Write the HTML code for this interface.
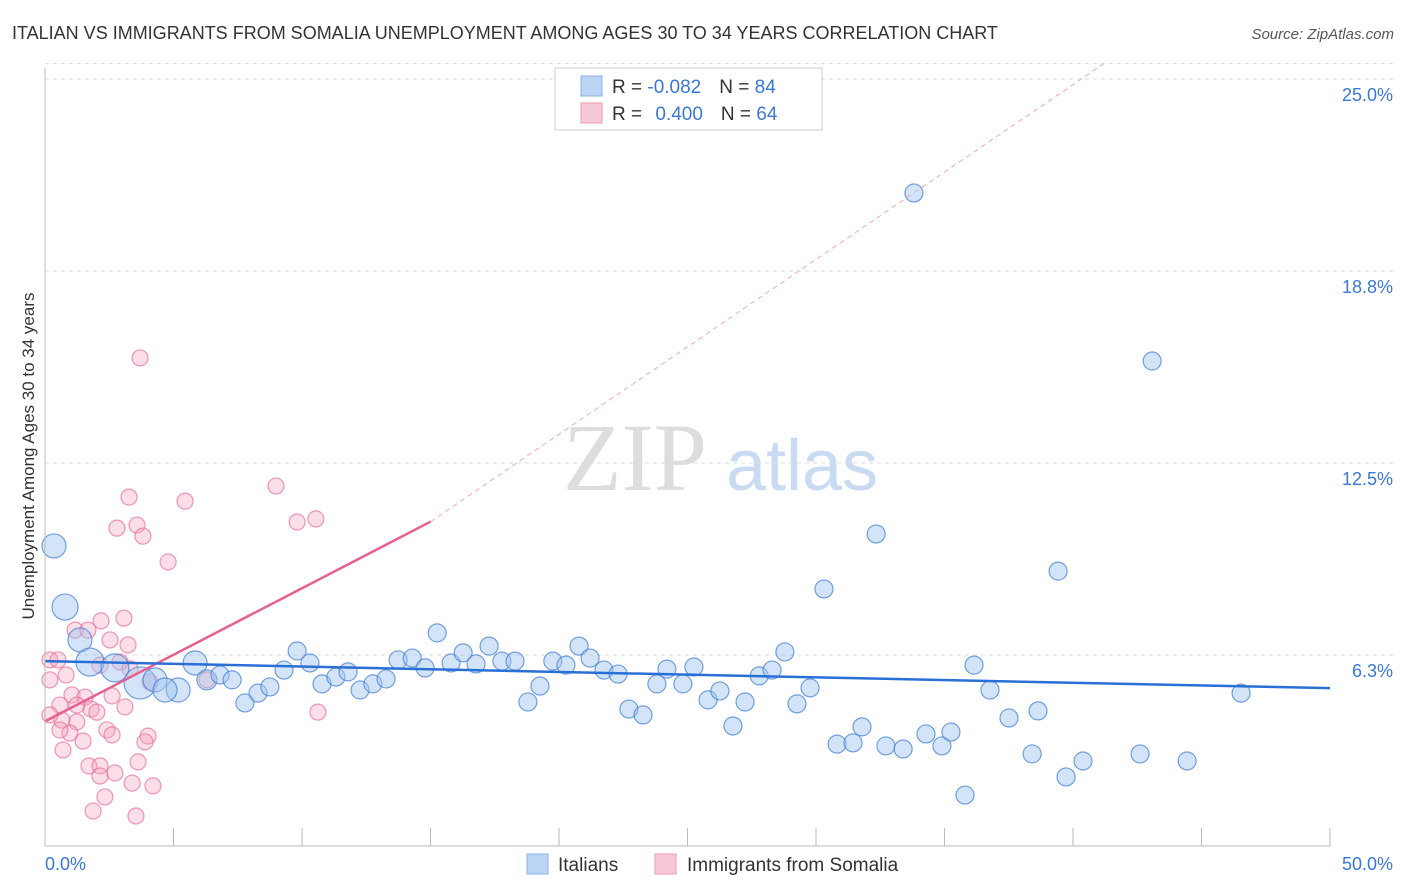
<!DOCTYPE html>
<html><head><meta charset="utf-8"><style>
body{margin:0;background:#fff;font-family:"Liberation Sans",sans-serif;}
</style></head><body>
<svg id="chart" width="1406" height="892" xmlns="http://www.w3.org/2000/svg" style="display:block">
<text x="12" y="39" font-size="18" fill="#333">ITALIAN VS IMMIGRANTS FROM SOMALIA UNEMPLOYMENT AMONG AGES 30 TO 34 YEARS CORRELATION CHART</text>
<text x="1394" y="39" font-size="15" fill="#555" text-anchor="end" font-style="italic">Source: ZipAtlas.com</text>
<text transform="translate(34,456) rotate(-90)" font-size="17" fill="#333" text-anchor="middle">Unemployment Among Ages 30 to 34 years</text>
<g><text x="635" y="490" font-size="96" font-family="Liberation Serif,serif" fill="#ddd" text-anchor="middle">ZIP</text><text x="802" y="490" font-size="72" fill="#c9dbf2" text-anchor="middle">atlas</text></g>
<g id="grid"></g><g id="pinkpts"></g><g id="bluepts"></g><g id="lines"></g><g id="axes"></g>
<g>
<rect x="555" y="68" width="267" height="62" fill="#fff" stroke="#ccc"/>
<rect x="581" y="76" width="21" height="20" fill="#bcd4f3" stroke="#8ab0e6"/>
<rect x="581" y="103" width="21" height="20" fill="#f9c8d6" stroke="#ef9ab3"/>
<text x="612" y="93" font-size="19" fill="#333">R = <tspan fill="#3a78d6">-0.082</tspan><tspan dx="18">N = </tspan><tspan fill="#3a78d6">84</tspan></text>
<text x="612" y="120" font-size="19" fill="#333">R = <tspan fill="#3a78d6" dx="8">0.400</tspan><tspan dx="18">N = </tspan><tspan fill="#3a78d6">64</tspan></text>
</g>
<g>
<rect x="527" y="854" width="21" height="20" fill="#bcd4f3" stroke="#8ab0e6"/>
<text x="558" y="871" font-size="19" fill="#333">Italians</text>
<rect x="655" y="854" width="21" height="20" fill="#f9c8d6" stroke="#ef9ab3"/>
<text x="687" y="871" font-size="19" fill="#333">Immigrants from Somalia</text>
</g>
</svg>
<script>
const yTicks=[6.25,12.5,18.75,25];
const yTickLabels=["6.3%","12.5%","18.8%","25.0%"];
const xTickLabels=["0.0%","50.0%"];
const blueX=[0.35,0.78,1.36,1.75,2.72,3.70,4.28,5.18,4.67,5.84,6.30,6.81,7.28,7.78,8.29,8.75,9.30,9.81,10.31,10.78,11.32,11.79,12.26,12.76,13.27,13.74,14.29,14.79,15.26,15.80,16.27,16.77,17.28,17.78,18.29,18.79,19.26,19.76,20.27,20.78,21.21,21.75,22.30,22.72,23.27,23.81,24.20,24.82,25.25,25.80,26.26,26.77,27.24,27.79,28.29,28.79,29.26,29.77,30.31,30.82,31.44,31.79,32.34,32.72,33.39,33.81,34.28,34.90,35.25,35.80,36.15,36.77,37.51,38.41,38.64,39.42,39.73,40.39,42.61,43.08,44.44,46.54];
const blueY=[9.8,7.81,6.74,6.02,5.83,5.34,5.44,5.11,5.11,5.99,5.44,5.60,5.44,4.69,5.01,5.21,5.76,6.38,5.99,5.31,5.53,5.70,5.11,5.31,5.47,6.09,6.15,5.83,6.97,5.99,6.32,5.96,6.54,6.05,6.05,4.72,5.24,6.05,5.92,6.54,6.15,5.76,5.63,4.49,4.30,5.31,5.79,5.31,5.86,4.79,5.08,3.94,4.72,5.57,5.76,6.35,4.66,5.18,8.40,3.35,3.39,3.91,10.19,3.29,3.19,21.29,3.68,3.29,3.74,1.69,5.92,5.11,4.20,3.03,4.43,8.98,2.28,2.80,3.03,15.82,2.80,5.01];
const blueR=[12,13,12,14,14,16,12,12,12,12,10,9];
const pinkX=[3.70,3.27,5.45,8.99,9.81,10.54,2.80,3.58,3.81,4.79,3.07,2.18,1.17,1.67,2.53,3.23,0.19,0.51,0.82,0.19,2.14,2.92,3.31,4.09,6.30,1.05,1.56,0.58,1.79,1.24,2.61,3.11,0.66,0.19,1.24,2.02,10.62,0.97,1.48,2.41,2.61,4.01,3.89,0.70,1.71,2.14,2.72,2.14,3.62,3.39,4.20,2.33,1.87,3.54,0.58];
const pinkY=[15.92,11.39,11.26,11.75,10.58,10.68,10.38,10.48,10.12,9.28,7.45,7.36,7.06,7.06,6.74,6.58,6.09,6.09,5.60,5.44,5.92,6.02,5.80,5.37,5.44,4.95,4.88,4.62,4.49,4.62,4.92,4.56,4.13,4.30,4.07,4.39,4.39,3.71,3.45,3.81,3.65,3.61,3.42,3.16,2.64,2.64,2.41,2.31,2.77,2.08,1.99,1.63,1.17,1.01,3.81];
const blueTrend=[[0,6.05],[50,5.17]];
const pinkTrend=[[0,4.09],[15,10.59]];
const pinkDash=[[15,10.59],[41.2,25.5]];
const NS="http://www.w3.org/2000/svg";
const X=v=>45+v/50*1285, Y=v=>847-v/6.25*192;
function mk(tag,attrs,parent){const e=document.createElementNS(NS,tag);for(const k in attrs)e.setAttribute(k,attrs[k]);parent.appendChild(e);return e;}
const grid=document.getElementById('grid'),axes=document.getElementById('axes');
yTicks.forEach((t,i)=>{
 const l=mk('line',{x1:45,x2:1394,y1:Y(t),y2:Y(t),stroke:'#ddd','stroke-dasharray':'4,4'},grid);
 
 
 const tx=mk('text',{x:1393,y:Y(t)+22,'font-size':18,fill:'#3a78d6','text-anchor':'end'},axes);
 tx.textContent=yTickLabels[i];
 
 
});
const tg=mk('line',{x1:45,x2:1394,y1:Y(25.5),y2:Y(25.5),stroke:'#ddd','stroke-dasharray':'4,4'},grid);


const ya=mk('line',{x1:45,x2:45,y1:68,y2:846,stroke:'#bbb'},axes);


const xa=mk('line',{x1:45,x2:1330,y1:846,y2:846,stroke:'#bbb'},axes);


for(let i=0;i<=10;i++){const t=mk('line',{x1:X(i*5),x2:X(i*5),y1:828,y2:846,stroke:'#bbb'},axes);
 
 }
[[0,45,'start'],[50,1393,'end']].forEach((d,i)=>{const t=mk('text',{x:d[1],y:870,'font-size':18,fill:'#3a78d6','text-anchor':d[2]},axes);t.textContent=xTickLabels[i];
 
 });
const pp=document.getElementById('pinkpts');
pinkX.forEach((x,i)=>{const c=mk('circle',{cx:X(x),cy:Y(pinkY[i]),r:8,fill:'rgba(244,160,185,0.35)',stroke:'rgba(232,110,150,0.7)','stroke-width':1.2},pp);
 
 });
const bp=document.getElementById('bluepts');
blueX.forEach((x,i)=>{const c=mk('circle',{cx:X(x),cy:Y(blueY[i]),r:blueR[i]||9,fill:'rgba(160,195,240,0.45)',stroke:'rgba(70,130,215,0.75)','stroke-width':1.2},bp);
 
 });
const lg=document.getElementById('lines');
function ln(p,attrs,name){const l=mk('line',Object.assign({x1:X(p[0][0]),y1:Y(p[0][1]),x2:X(p[1][0]),y2:Y(p[1][1])},attrs),lg);
 
 }
ln(pinkDash,{stroke:'#f0a7bd','stroke-width':1,'stroke-dasharray':'5,4'},'somalia-trend-extension');
ln(pinkTrend,{stroke:'#e8608e','stroke-width':2.5},'somalia-trend-line');
ln(blueTrend,{stroke:'#2a6fd6','stroke-width':2.5},'italians-trend-line');
</script>
</body></html>
